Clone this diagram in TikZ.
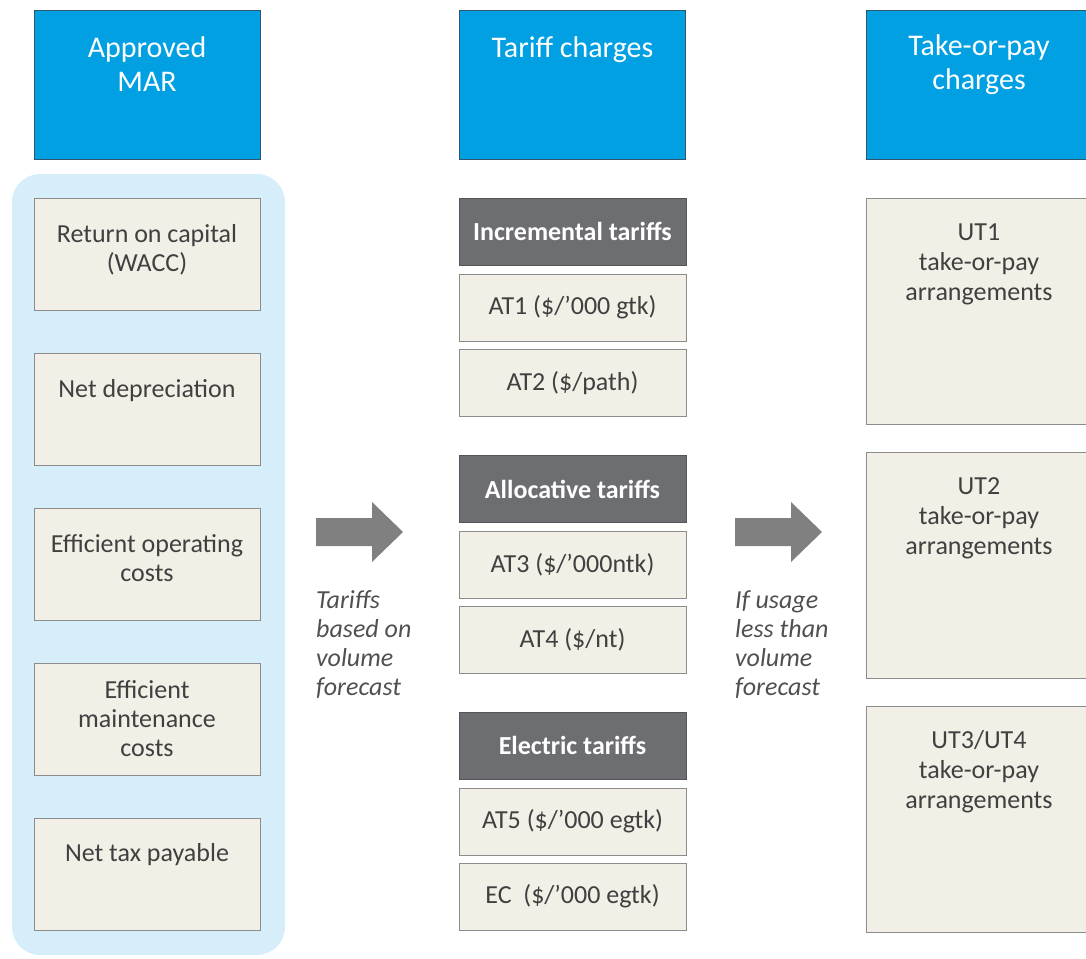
\documentclass[tikz,border=0pt]{standalone}
\usepackage{fontspec}
\setmainfont{Carlito}
\definecolor{bluehd}{RGB}{0,160,227}
\definecolor{bluebd}{RGB}{50,85,110}
\definecolor{bgblue}{RGB}{214,238,249}
\definecolor{beige}{RGB}{242,239,230}
\definecolor{beigebd}{RGB}{140,140,140}
\definecolor{darkhd}{RGB}{109,110,113}
\definecolor{darkbd}{RGB}{85,85,88}
\definecolor{txt}{RGB}{64,64,64}
\definecolor{arrowc}{RGB}{128,128,128}
\definecolor{itxt}{RGB}{80,80,80}
\begin{document}
\begin{tikzpicture}[x=1pt,y=-1pt,
  bluehead/.style={draw=bluebd, fill=bluehd, line width=0.8pt, minimum width=226pt, minimum height=149pt, inner sep=0pt},
  headtext/.style={anchor=north, inner sep=0pt, align=center, text=white, font=\fontsize{30}{34}\selectfont},
  lbox/.style={draw=beigebd, fill=beige, line width=0.8pt, minimum width=226pt, minimum height=112pt, inner sep=0pt},
  btext/.style={anchor=north, inner sep=0pt, align=center, text=txt, font=\fontsize{26}{29}\selectfont},
  utext/.style={anchor=north, inner sep=0pt, align=center, text=txt, font=\fontsize{26}{30}\selectfont},
  mbox/.style={draw=beigebd, fill=beige, line width=0.8pt, minimum width=227pt, minimum height=67pt, inner sep=0pt, text=txt, font=\fontsize{26}{29}\selectfont},
  dhead/.style={draw=darkbd, fill=darkhd, line width=0.8pt, minimum width=227pt, minimum height=67pt, inner sep=0pt, text=white, font=\fontsize{26}{29}\selectfont\bfseries},
  rbox/.style={draw=beigebd, fill=beige, line width=0.8pt, minimum width=226pt, minimum height=226pt, inner sep=0pt},
  itext/.style={anchor=north west, inner sep=0pt, align=left, text=itxt, font=\fontsize{26}{29}\selectfont\itshape},
  bigarrow/.style={fill=arrowc}
]
\useasboundingbox (0,0) rectangle (1086,958);
\clip (0,0) rectangle (1086,958);

% blue headers
\node[bluehead] (mar) at (147,84.5) {};
\node[headtext] (mar-t) at ([yshift=-24pt]mar.north) {\strut Approved\\MAR};
\node[bluehead] (tar) at (572.5,84.5) {};
\node[headtext] (tar-t) at ([yshift=-24pt]tar.north) {\strut Tariff charges};
\node[bluehead] (top) at (979,84.5) {};
\node[headtext] (top-t) at ([yshift=-22pt]top.north) {\strut Take-or-pay\\charges};

% background panel
\fill[bgblue, rounded corners=28pt] (12,174) rectangle (285,955);

% left boxes
\node[lbox] (ret) at (147,254) {};
\node[btext] (ret-t) at ([yshift=-24pt]ret.north) {\strut Return on capital\\(WACC)};
\node[lbox] (dep) at (147,409) {};
\node[btext] (dep-t) at ([yshift=-24pt]dep.north) {\strut Net depreciation};
\node[lbox] (opc) at (147,564) {};
\node[btext] (opc-t) at ([yshift=-24pt]opc.north) {\strut Efficient operating\\costs};
\node[lbox] (mnt) at (147,719) {};
\node[btext] (mnt-t) at ([yshift=-15pt]mnt.north) {\strut Efficient\\maintenance\\costs};
\node[lbox] (tax) at (147,874) {};
\node[btext] (tax-t) at ([yshift=-23pt]tax.north) {\strut Net tax payable};

% middle column
\node[dhead] (inc) at (572.5,231.5) {Incremental tariffs};
\node[mbox] (at1) at (572.5,307.5) {AT1 (\$/’000 gtk)};
\node[mbox] (at2) at (572.5,383) {AT2 (\$/path)};
\node[dhead] (alo) at (572.5,489) {Allocative tariffs};
\node[mbox] (at3) at (572.5,564.5) {AT3 (\$/’000ntk)};
\node[mbox] (at4) at (572.5,640) {AT4 (\$/nt)};
\node[dhead] (ele) at (572.5,745.5) {Electric tariffs};
\node[mbox] (at5) at (572.5,821.5) {AT5 (\$/’000 egtk)};
\node[mbox] (ec) at (572.5,896.5) {EC\ \ (\$/’000 egtk)};

% right column
\node[rbox] (ut1) at (979,311) {};
\node[utext] (ut1-t) at ([yshift=-22pt]ut1.north) {\strut UT1\\take-or-pay\\arrangements};
\node[rbox] (ut2) at (979,565) {};
\node[utext] (ut2-t) at ([yshift=-22pt]ut2.north) {\strut UT2\\take-or-pay\\arrangements};
\node[rbox] (ut3) at (979,819) {};
\node[utext] (ut3-t) at ([yshift=-22pt]ut3.north) {\strut UT3/UT4\\take-or-pay\\arrangements};

% arrows
\fill[bigarrow] (316,518) -- (372,518) -- (372,502) -- (403,532) -- (372,562) -- (372,546) -- (316,546) -- cycle;
\fill[bigarrow] (735,518) -- (791,518) -- (791,502) -- (822,532) -- (791,562) -- (791,546) -- (735,546) -- cycle;

% italic notes
\node[itext] (n1) at (316,588) {\strut Tariffs\\based on\\volume\\forecast};
\node[itext] (n2) at (735,588) {\strut If usage\\less than\\volume\\forecast};
\end{tikzpicture}
\end{document}
